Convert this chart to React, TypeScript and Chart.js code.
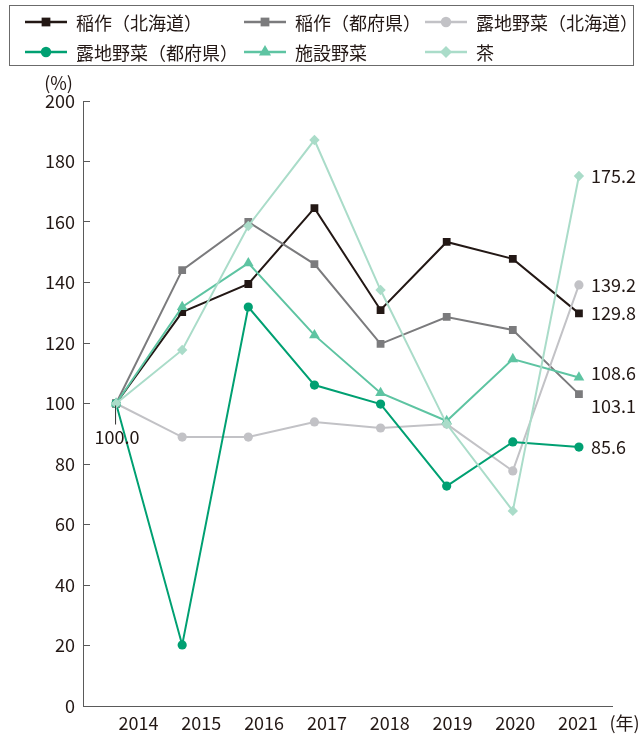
import React, { useEffect, useRef } from "react";
import { Chart, registerables } from "chart.js";
import { drawPoint } from "chart.js/helpers";

Chart.register(...registerables);

// Index values (2014 = 100)
const years = ["2014", "2015", "2016", "2017", "2018", "2019", "2020", "2021"];
const yearUnit = "(年)";
const percentUnit = "(%)";

const riceHokkaido = [100, 130.2, 139.5, 164.6, 130.9, 153.4, 147.8, 129.8];
const riceOther = [100, 144.1, 160.0, 146.1, 119.7, 128.6, 124.3, 103.1];
const fieldVegHokkaido = [100, 88.9, 88.9, 93.9, 91.9, 93.2, 77.7, 139.2];
const fieldVegOther = [100, 20.2, 131.9, 106.1, 99.8, 72.7, 87.3, 85.6];
const greenhouseVeg = [100, 131.9, 146.4, 122.6, 103.5, 94.2, 114.7, 108.6];
const tea = [100, 117.7, 158.7, 187.1, 137.5, 93.2, 64.5, 175.2];

const seriesNames = [
  "稲作（北海道）",
  "稲作（都府県）",
  "露地野菜（北海道）",
  "露地野菜（都府県）",
  "施設野菜",
  "茶",
];

const yMin = 0;
const yMax = 200;
const yStep = 20;

// Year labels on the bottom axis sit on their own evenly spaced positions
const yearLabelPositions = [0, 1, 2, 3, 4, 5, 6, 7, 7.74];
const yearLabelTexts = [...years, yearUnit];

const FONT = "'Noto Sans CJK JP', 'Noto Sans', sans-serif";
const TEXT = "#231815";
const AXIS = "#5a5a5a";

const colors = ["#231815", "#7b7b7d", "#c2c2c6", "#00a072", "#5ec4a2", "#aadcc9"];
const pointStyles = ["rect", "rect", "circle", "circle", "triangle", "rectRot"];
const pointRadii = [5.5, 5.5, 4.6, 4.6, 6.2, 5.2];
const legendRadii = [6.2, 6.2, 5.2, 5.2, 7, 6];

// label offsets beside the last point of each series
const endLabelDy = [0, 12, 0, 0, -4, 0];

const legendCols = [25, 244, 425];
const legendRows = [22, 52];

const legendPlugin = {
  id: "boxLegend",
  afterDraw(chart: any) {
    const ctx = chart.ctx;
    ctx.save();
    ctx.strokeStyle = "#6b6b6b";
    ctx.lineWidth = 1;
    ctx.strokeRect(9.5, 5.5, 624, 60);
    chart.data.datasets.forEach((ds: any, i: number) => {
      const x0 = legendCols[i % 3];
      const y = legendRows[Math.floor(i / 3)];
      ctx.strokeStyle = ds.borderColor;
      ctx.lineWidth = 2.5;
      ctx.beginPath();
      ctx.moveTo(x0, y);
      ctx.lineTo(x0 + 42, y);
      ctx.stroke();
      ctx.fillStyle = ds.borderColor;
      drawPoint(
        ctx,
        { pointStyle: ds.pointStyle, radius: legendRadii[i], borderWidth: 0, rotation: 0 } as any,
        x0 + 21,
        y
      );
      ctx.fillStyle = TEXT;
      ctx.font = `18px ${FONT}`;
      ctx.textAlign = "left";
      ctx.textBaseline = "middle";
      ctx.fillText(ds.label, x0 + 51, y + 1);
    });
    ctx.restore();
  },
};

const valueLabelPlugin = {
  id: "valueLabels",
  afterDatasetsDraw(chart: any) {
    const ctx = chart.ctx;
    ctx.save();
    ctx.fillStyle = TEXT;
    ctx.font = `18px ${FONT}`;
    ctx.textBaseline = "middle";
    ctx.textAlign = "left";
    chart.data.datasets.forEach((ds: any, i: number) => {
      const meta = chart.getDatasetMeta(i);
      const n = ds.data.length - 1;
      const pt = meta.data[n];
      ctx.fillText(Number(ds.data[n]).toFixed(1), pt.x + 12, pt.y + endLabelDy[i]);
    });
    // base-year label with a short leader line
    const first = chart.getDatasetMeta(0).data[0];
    ctx.strokeStyle = "#333";
    ctx.lineWidth = 1;
    ctx.beginPath();
    ctx.moveTo(first.x - 0.5, first.y + 2);
    ctx.lineTo(first.x - 0.5, first.y + 21);
    ctx.stroke();
    ctx.textAlign = "center";
    ctx.fillText(Number(chart.data.datasets[0].data[0]).toFixed(1), first.x + 1, first.y + 34);
    // unit above the value axis
    const yScale = chart.scales.y;
    ctx.textAlign = "center";
    ctx.fillText(percentUnit, yScale.right - 24.5, yScale.getPixelForValue(yMax) - 18);
    ctx.restore();
  },
};

export default function App() {
  const ref = useRef<HTMLCanvasElement | null>(null);

  useEffect(() => {
    if (!ref.current) return;
    const series = [riceHokkaido, riceOther, fieldVegHokkaido, fieldVegOther, greenhouseVeg, tea];
    const chart = new Chart(ref.current, {
      type: "line",
      data: {
        labels: years,
        datasets: series.map((data, i) => ({
          label: seriesNames[i],
          data,
          // later series are painted over earlier ones
          order: series.length - i,
          xAxisID: "x",
          yAxisID: "y",
          borderColor: colors[i],
          backgroundColor: colors[i],
          pointBackgroundColor: colors[i],
          pointBorderColor: colors[i],
          pointBorderWidth: 0,
          pointStyle: pointStyles[i],
          pointRadius: pointRadii[i],
          borderWidth: 2,
          tension: 0,
          fill: false,
        })),
      },
      options: {
        responsive: false,
        animation: false,
        devicePixelRatio: 1,
        layout: { padding: { top: 101, right: 28, bottom: 0, left: 0 } },
        plugins: {
          legend: { display: false },
          tooltip: { enabled: false },
        },
        scales: {
          x: {
            type: "category",
            offset: true,
            display: false,
          },
          xYears: {
            type: "linear",
            position: "bottom",
            min: -0.884,
            max: 7.54,
            afterBuildTicks: (axis: any) => {
              axis.ticks = yearLabelPositions.map((v) => ({ value: v }));
            },
            afterFit: (axis: any) => {
              axis.height = 29;
              axis.paddingLeft = 0;
              axis.paddingRight = 0;
            },
            grid: { display: true, drawOnChartArea: false, drawTicks: false, color: AXIS },
            border: { display: true, color: AXIS, width: 1 },
            ticks: {
              autoSkip: false,
              maxRotation: 0,
              minRotation: 0,
              padding: 6,
              color: TEXT,
              font: { family: FONT, size: 18 },
              callback: (_v: any, i: number) => yearLabelTexts[i],
            },
          },
          y: {
            type: "linear",
            position: "left",
            min: yMin,
            max: yMax,
            afterFit: (axis: any) => {
              axis.width = 83;
            },
            grid: {
              display: true,
              drawOnChartArea: false,
              drawTicks: true,
              tickLength: -7,
              color: AXIS,
            },
            border: { display: true, color: AXIS, width: 1 },
            ticks: {
              stepSize: yStep,
              padding: 15,
              color: TEXT,
              font: { family: FONT, size: 18 },
            },
          },
        },
      },
      plugins: [legendPlugin, valueLabelPlugin],
    });
    return () => chart.destroy();
  }, []);

  return (
    <div style={{ position: "absolute", left: 0, top: 0, width: 640, height: 735, background: "#fff" }}>
      <canvas ref={ref} width={640} height={735} style={{ display: "block" }} />
    </div>
  );
}
